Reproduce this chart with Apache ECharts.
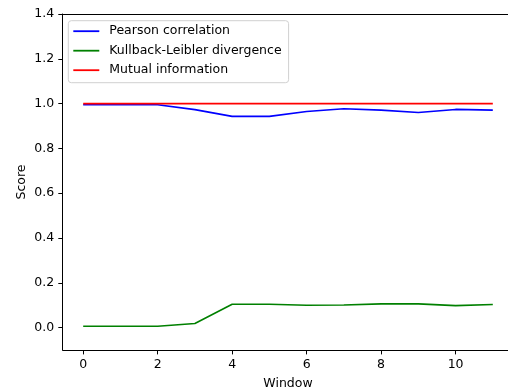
<!DOCTYPE html>
<html><head><meta charset="utf-8">
<script src="https://cdn.jsdelivr.net/npm/echarts@6/dist/echarts.min.js"></script>
<style>html,body{margin:0;padding:0;background:#fff}#c{width:508px;height:390px}</style>
</head><body><div id="c"></div>
<script>
const windows = [0,1,2,3,4,5,6,7,8,9,10,11];
const pearson = [0.995,0.995,0.995,0.973,0.943,0.943,0.965,0.977,0.971,0.960,0.974,0.971];
const kl = [0.006,0.006,0.006,0.018,0.104,0.104,0.100,0.101,0.106,0.106,0.098,0.103];
const mutual = [1,1,1,1,1,1,1,1,1,1,1,1];
const xTicks = [0,2,4,6,8,10];
const yTicks = [0,0.2,0.4,0.6,0.8,1.0,1.2,1.4];
const names = ['Pearson correlation','Kullback-Leibler divergence','Mutual information'];
const colors = ['#0000ff','#008000','#ff0000'];

const font = 'DejaVu Sans';
const fs = 12.5;
const chart = echarts.init(document.getElementById('c'), null, {renderer:'canvas'});
const pair = arr => windows.map((w,i)=>[w,arr[i]]);
const lineStyle = {color:'#000', width:1};
chart.setOption({
  animation:false,
  textStyle:{fontFamily:font},
  grid:{left:62.7, top:14, width:450.6, bottom:40, containLabel:false, outerBoundsMode:'none'},
  legend:{
    orient:'vertical', left:68.3, top:20.7,
    padding:[4,7,6,5],
    itemGap:6.5, itemWidth:26, itemHeight:1.8,
    icon:'rect',
    borderColor:'#d0d0d0', borderWidth:1, borderRadius:3,
    backgroundColor:'rgba(255,255,255,0.8)',
    textStyle:{fontFamily:font, fontSize:fs, color:'#000', padding:[0,0,0,5]},
    data:names
  },
  xAxis:[{
    type:'value', min:-0.55, max:11.55, position:'bottom',
    name:'Window', nameLocation:'middle', nameGap:27, nameMoveOverlap:false,
    nameTextStyle:{fontFamily:font, fontSize:fs, color:'#000'},
    axisLine:{show:true, onZero:false, lineStyle},
    axisTick:{show:true, inside:false, length:4.4, lineStyle, customValues:xTicks},
    axisLabel:{show:true, fontFamily:font, fontSize:fs, color:'#000', margin:8.5, customValues:xTicks},
    splitLine:{show:false}
  },{
    type:'value', min:-0.55, max:11.55, position:'top',
    axisLine:{show:true, onZero:false, lineStyle},
    axisTick:{show:false}, axisLabel:{show:false}, splitLine:{show:false}
  }],
  yAxis:[{
    type:'value', min:-0.1, max:1.4, position:'left',
    name:'Score', nameLocation:'middle', nameGap:34, nameRotate:90, nameMoveOverlap:false,
    nameTextStyle:{fontFamily:font, fontSize:fs, color:'#000'},
    axisLine:{show:true, onZero:false, lineStyle},
    axisTick:{show:true, inside:false, length:4.4, lineStyle, customValues:yTicks},
    axisLabel:{show:true, fontFamily:font, fontSize:fs, color:'#000', margin:8.5,
      formatter:v=>v.toFixed(1), customValues:yTicks},
    splitLine:{show:false}
  },{
    type:'value', min:-0.1, max:1.4, position:'right',
    axisLine:{show:true, onZero:false, lineStyle},
    axisTick:{show:false}, axisLabel:{show:false}, splitLine:{show:false}
  }],
  series:[
    {name:names[0], type:'line', data:pair(pearson), symbol:'none', color:colors[0], lineStyle:{width:1.6, color:colors[0]}},
    {name:names[1], type:'line', data:pair(kl), symbol:'none', color:colors[1], lineStyle:{width:1.6, color:colors[1]}},
    {name:names[2], type:'line', data:pair(mutual), symbol:'none', color:colors[2], lineStyle:{width:1.6, color:colors[2]}}
  ]
});
</script></body></html>
